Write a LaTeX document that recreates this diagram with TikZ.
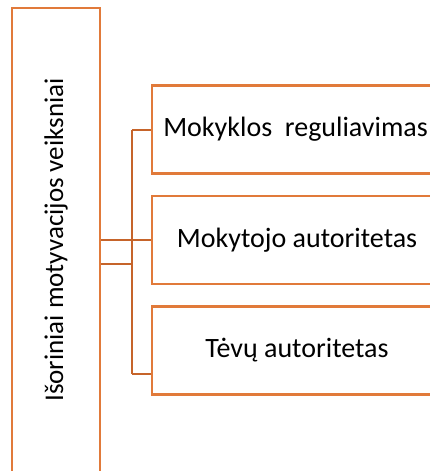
\documentclass[tikz,border=0pt]{standalone}
\usepackage{fontspec}
\setmainfont{Carlito}
\definecolor{boxorange}{HTML}{E17A3A}
\definecolor{linkorange}{HTML}{C6642A}
\begin{document}
\begin{tikzpicture}[x=1pt,y=-1pt,
  outerbox/.style={draw=boxorange, line width=2.4pt, fill=white, inner sep=0pt},
  itembox/.style={draw=boxorange, line width=2.4pt, fill=white, inner sep=0pt,
    minimum width=290pt, minimum height=88pt, font=\fontsize{28}{32}\selectfont},
  link/.style={draw=linkorange, line width=2.6pt}]
\useasboundingbox (0,0) rectangle (430,471);
\clip (0,0) rectangle (430,471);
\fill[white] (0,0) rectangle (430,471);
\coordinate (j1) at (132,130);
\coordinate (j2) at (132,264);
\coordinate (j3) at (132,374);
\node[outerbox, minimum width=88pt, minimum height=464pt] (L) at (56,240)
  {\rotatebox{90}{\fontsize{27}{31}\selectfont Išoriniai motyvacijos veiksniai}};
\node[itembox] (B1) at (297,129.5) {\hspace*{-3pt}Mokyklos\ \ reguliavimas};
\node[itembox] (B2) at (297,240) {Mokytojo autoritetas};
\node[itembox] (B3) at (297,350.5) {Tėvų autoritetas};
\draw[link] (j1) -- (B1.west |- j1);
\draw[link] (j1) -- (j3);
\draw[link] (j3) -- (B3.west |- j3);
\draw[link] (L.east |- B2.west) -- (B2.west);
\draw[link] (L.east |- j2) -- (j2);
\end{tikzpicture}
\end{document}
